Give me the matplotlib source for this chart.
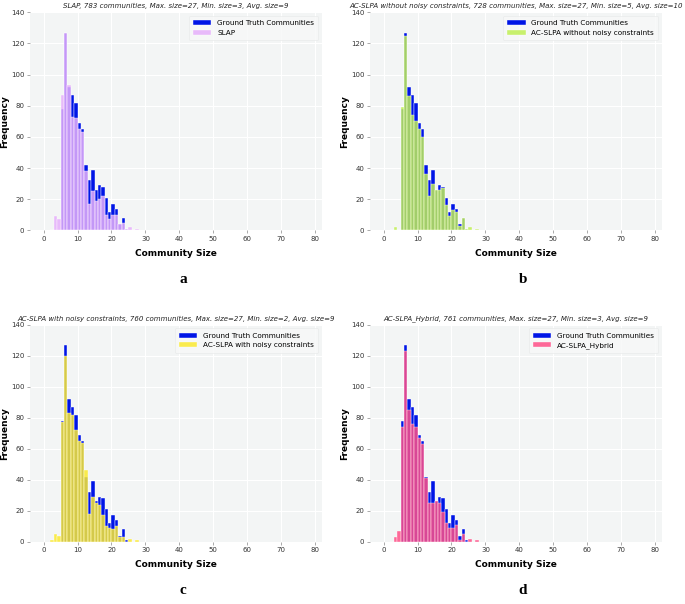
import matplotlib
matplotlib.use("Agg")
import matplotlib.pyplot as plt

plt.rcParams['font.family'] = ['DejaVu Sans']

sizes = list(range(2, 28))

# ground truth community size counts (sizes 2..27)
groundTruth = [0, 0, 0, 78, 127, 92, 87, 82, 69, 65, 42, 32, 39,
               26, 29, 28, 21, 12, 17, 14, 4, 8, 1, 0, 0, 0]

slap = [0, 9, 7, 87, 127, 93, 73, 72, 65, 63, 38, 17, 25,
        19, 20, 22, 10, 7, 10, 10, 4, 5, 1, 2, 0, 1]
acNoNoise = [0, 2, 0, 79, 125, 86, 74, 70, 65, 60, 36, 22, 30,
             26, 26, 27, 16, 9, 13, 12, 3, 8, 1, 2, 0, 1]
acNoisy = [1, 5, 4, 77, 120, 83, 82, 72, 65, 64, 46, 18, 29,
           25, 24, 17, 10, 9, 8, 10, 3, 3, 0, 2, 0, 1]
acHybrid = [0, 3, 7, 74, 123, 85, 76, 74, 67, 63, 41, 25, 25,
            26, 25, 19, 12, 9, 9, 11, 1, 5, 0, 2, 0, 1]

panels = [
    ("SLAP", slap, "#e6b0fb",
     "SLAP, 783 communities, Max. size=27, Min. size=3, Avg. size=9", "a"),
    ("AC-SLPA without noisy constraints", acNoNoise, "#c0ef55",
     "AC-SLPA without noisy constraints, 728 communities, Max. size=27, Min. size=5, Avg. size=10", "b"),
    ("AC-SLPA with noisy constraints", acNoisy, "#fbea30",
     "AC-SLPA with noisy constraints, 760 communities, Max. size=27, Min. size=2, Avg. size=9", "c"),
    ("AC-SLPA_Hybrid", acHybrid, "#ff5088",
     "AC-SLPA_Hybrid, 761 communities, Max. size=27, Min. size=3, Avg. size=9", "d"),
]

W, H = 685, 604
fig = plt.figure(figsize=(W / 100, H / 100), dpi=100)

# pixel boxes: left, top, right, bottom
boxes = [(30, 12.3, 322, 230.3), (370, 12.3, 662, 230.3),
         (30, 324.7, 322, 541.7), (370, 324.7, 662, 541.7)]

for (label, counts, color, title, letter), (l, t, r, b) in zip(panels, boxes):
    ax = fig.add_axes([l / W, (H - b) / H, (r - l) / W, (b - t) / H])
    ax.set_facecolor("#f3f5f5")
    for s in ax.spines.values():
        s.set_visible(False)
    ax.grid(True, color="white", linewidth=0.8)
    ax.set_axisbelow(True)

    ax.bar(sizes, groundTruth, width=1, align='edge', color="#0015e6",
           edgecolor="white", linewidth=0.3, label="Ground Truth Communities")
    ax.bar(sizes, counts, width=1, align='edge', color=color, alpha=0.85,
           edgecolor="white", linewidth=0.3, label=label)

    ax.set_xlim(-4, 82)
    ax.set_ylim(0, 140)
    ax.set_xticks(range(0, 81, 10))
    ax.set_yticks(range(0, 141, 20))
    ax.tick_params(labelsize=5.0, length=2, width=0.5, color="#888888",
                   labelcolor="#333333", pad=2)
    ax.set_title(title, fontsize=5.0, style='italic', pad=3, color="#222222")
    ax.set_xlabel("Community Size", fontsize=6.5, fontweight='bold', labelpad=5)
    ax.set_ylabel("Frequency", fontsize=6.5, fontweight='bold')
    ax.yaxis.set_label_coords(-0.07, 0.5)
    leg = ax.legend(loc="upper right", fontsize=5.2, frameon=True,
                    handlelength=2.5, borderpad=0.6)
    leg.get_frame().set_facecolor("#f7f8f8")
    leg.get_frame().set_edgecolor("#e6e8e8")
    leg.get_frame().set_linewidth(0.5)

    fig.text((l + r) / 2 / W + 0.01, 1 - (b + 49) / H, letter, fontsize=11,
             fontweight='bold', family='Liberation Serif', ha='center', va='center')

fig.savefig("out.png", dpi=100)
